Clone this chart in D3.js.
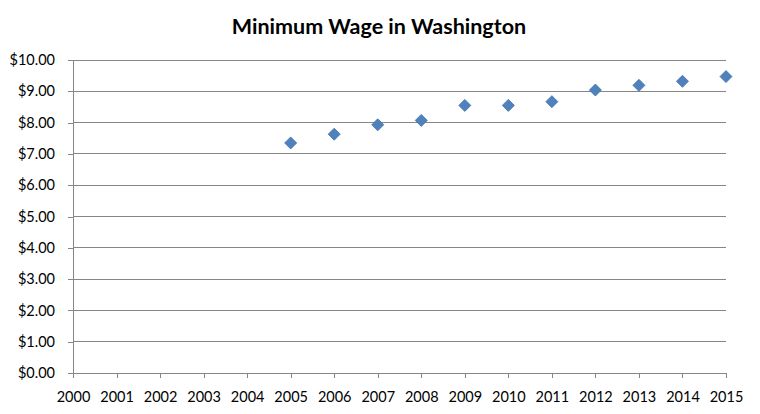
<!DOCTYPE html>
<html><head><meta charset="utf-8">
<script src="https://cdn.jsdelivr.net/npm/d3@7"></script>
<style>body{margin:0;background:#fff}svg{display:block}</style>
</head><body>
<svg id="c" width="760" height="414"></svg>
<script>
const years = [2005,2006,2007,2008,2009,2010,2011,2012,2013,2014,2015];
const wages = [7.35,7.63,7.93,8.07,8.55,8.55,8.67,9.04,9.19,9.32,9.47];
const xTicks = [2000,2001,2002,2003,2004,2005,2006,2007,2008,2009,2010,2011,2012,2013,2014,2015];
const yTicks = [0,1,2,3,4,5,6,7,8,9,10];
const title = "Minimum Wage in Washington";

const svg = d3.select("#c");
const font = "Lato, 'Open Sans', sans-serif";
const x = d3.scaleLinear().domain([2000,2015]).range([73,726]);
const y = d3.scaleLinear().domain([0,10]).range([373,60]);
const grey = "#868686";

svg.append("text").attr("x",379).attr("y",34).attr("text-anchor","middle")
  .attr("font-family",font).attr("font-weight","bold").attr("font-size",21.5)
  .attr("fill","#000").text(title);

// gridlines
svg.append("g").selectAll("line").data(yTicks.filter(d=>d>0)).join("line")
  .attr("x1",x(2000)).attr("x2",x(2015)).attr("y1",d=>y(d)).attr("y2",d=>y(d))
  .attr("stroke",grey).attr("stroke-width",1).attr("shape-rendering","crispEdges");

const yAxis = svg.append("g").attr("transform",`translate(${x(2000)},0)`)
  .call(d3.axisLeft(y).tickValues(yTicks).tickSize(5).tickSizeOuter(0).tickPadding(13).tickFormat(d=>"$"+d.toFixed(2)));
const xAxis = svg.append("g").attr("transform",`translate(0,${y(0)})`)
  .call(d3.axisBottom(x).tickValues(xTicks).tickSize(5).tickSizeOuter(0).tickPadding(14).tickFormat(d=>String(d)));
[yAxis,xAxis].forEach(a=>{
  a.selectAll("path,line").attr("stroke",grey).attr("shape-rendering","crispEdges");
  a.selectAll("text").attr("font-family",font).attr("font-size",14.5).attr("fill","#000");
});

svg.append("g").selectAll("path").data(years.map((yr,i)=>[yr,wages[i]])).join("path")
  .attr("d", d3.symbol().type(d3.symbolSquare).size(72)())
  .attr("transform",d=>`translate(${x(d[0])},${y(d[1])}) rotate(45)`)
  .attr("fill","#4F81BD").attr("stroke","#4674AE").attr("stroke-width",0.8);
</script>
</body></html>
